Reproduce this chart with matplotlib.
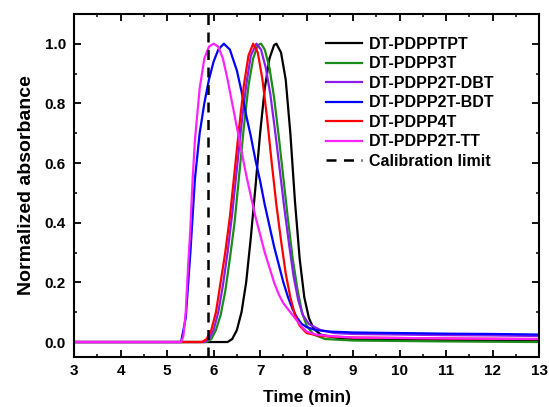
"""GPC traces of DT-PDPP polymers, normalized absorbance vs elution time."""

import matplotlib as mpl
import matplotlib.pyplot as plt
from matplotlib.ticker import MultipleLocator

mpl.rcParams.update(
    {
        "font.family": ["Liberation Sans", "DejaVu Sans"],
        "font.weight": "bold",
        "font.size": 11,
        "axes.linewidth": 1.5,
        "xtick.direction": "in",
        "ytick.direction": "in",
        "xtick.top": True,
        "ytick.right": True,
        "xtick.major.size": 5,
        "ytick.major.size": 5,
        "xtick.minor.size": 2.5,
        "ytick.minor.size": 2.5,
        "xtick.major.width": 1.3,
        "ytick.major.width": 1.3,
        "xtick.minor.width": 1.1,
        "ytick.minor.width": 1.1,
        "xtick.major.pad": 5,
        "ytick.major.pad": 6,
    }
)

# elution time (min) / normalized absorbance
t_tpt = [3.0, 5.0, 6.3, 6.4, 6.5, 6.6, 6.7, 6.8, 6.9, 7.0, 7.1, 7.2, 7.3, 7.35,
         7.45, 7.55, 7.65, 7.75, 7.85, 7.95, 8.05, 8.15, 8.3, 8.6, 9.0, 11.0, 13.0]
a_tpt = [0.0, 0.0, 0.0, 0.01, 0.04, 0.1, 0.2, 0.35, 0.52, 0.7, 0.85, 0.95, 0.995, 1.0,
         0.97, 0.88, 0.7, 0.47, 0.28, 0.15, 0.08, 0.045, 0.025, 0.015, 0.01, 0.007, 0.005]

t_3t = [3.0, 5.0, 5.85, 5.95, 6.05, 6.15, 6.25, 6.35, 6.45, 6.55, 6.65, 6.75, 6.85, 6.95,
        7.02, 7.1, 7.2, 7.3, 7.4, 7.5, 7.6, 7.7, 7.8, 7.9, 8.0, 8.15, 8.4, 9.0, 11.0, 13.0]
a_3t = [0.0, 0.0, 0.0, 0.01, 0.04, 0.09, 0.17, 0.28, 0.4, 0.56, 0.72, 0.86, 0.95, 0.995,
        1.0, 0.98, 0.92, 0.82, 0.69, 0.55, 0.41, 0.28, 0.18, 0.1, 0.055, 0.025, 0.01, 0.005, 0.002, 0.0]

t_dbt = [3.0, 5.0, 5.8, 5.9, 6.0, 6.1, 6.2, 6.3, 6.4, 6.5, 6.6, 6.7, 6.8, 6.92, 7.02,
         7.12, 7.22, 7.32, 7.42, 7.52, 7.62, 7.72, 7.82, 7.92, 8.05, 8.3, 8.6, 9.0,
         10.0, 11.0, 12.0, 13.0]
a_dbt = [0.0, 0.0, 0.0, 0.01, 0.04, 0.1, 0.19, 0.3, 0.43, 0.58, 0.73, 0.86, 0.96, 1.0, 0.98,
         0.92, 0.83, 0.71, 0.58, 0.45, 0.33, 0.22, 0.14, 0.09, 0.06, 0.04, 0.03, 0.027,
         0.025, 0.023, 0.022, 0.02]

t_bdt = [3.0, 5.0, 5.3, 5.4, 5.5, 5.6, 5.7, 5.8, 5.9, 6.0, 6.1, 6.22, 6.35, 6.5, 6.6,
         6.7, 6.8, 6.9, 7.0, 7.1, 7.2, 7.3, 7.4, 7.5, 7.6, 7.7, 7.8, 7.9, 8.0, 8.2, 8.5,
         9.0, 10.0, 11.0, 12.0, 13.0]
a_bdt = [0.0, 0.0, 0.0, 0.08, 0.3, 0.55, 0.7, 0.8, 0.88, 0.94, 0.98, 1.0, 0.98, 0.91, 0.84,
         0.76, 0.69, 0.61, 0.54, 0.46, 0.39, 0.32, 0.26, 0.2, 0.15, 0.11, 0.08, 0.06, 0.05,
         0.04, 0.035, 0.032, 0.03, 0.028, 0.027, 0.025]

t_4t = [3.0, 5.0, 5.75, 5.85, 5.95, 6.05, 6.15, 6.25, 6.35, 6.45, 6.55, 6.65, 6.75, 6.85,
        6.95, 7.05, 7.15, 7.25, 7.35, 7.45, 7.55, 7.65, 7.75, 7.85, 8.0, 8.3, 9.0, 11.0, 13.0]
a_4t = [0.0, 0.0, 0.0, 0.01, 0.04, 0.1, 0.2, 0.3, 0.42, 0.57, 0.72, 0.86, 0.96, 1.0,
        0.97, 0.88, 0.75, 0.6, 0.46, 0.34, 0.23, 0.15, 0.09, 0.055, 0.03, 0.02, 0.015, 0.012, 0.01]

t_tt = [3.0, 5.0, 5.3, 5.35, 5.4, 5.45, 5.5, 5.55, 5.6, 5.7, 5.8, 5.9, 6.0, 6.1, 6.2,
        6.3, 6.4, 6.5, 6.6, 6.7, 6.8, 6.9, 7.0, 7.1, 7.2, 7.3, 7.4, 7.5, 7.6, 7.7, 7.8,
        7.9, 8.0, 8.2, 8.5, 9.0, 11.0, 13.0]
a_tt = [0.0, 0.0, 0.0, 0.02, 0.1, 0.25, 0.38, 0.55, 0.68, 0.85, 0.95, 0.99, 1.0, 0.99, 0.95,
        0.88, 0.8, 0.72, 0.64, 0.56, 0.49, 0.42, 0.36, 0.3, 0.25, 0.2, 0.16, 0.13, 0.11,
        0.09, 0.07, 0.05, 0.035, 0.025, 0.02, 0.015, 0.012, 0.01]

calib_limit = 5.87

series = [
    ("DT-PDPPTPT", t_tpt, a_tpt, "#000000"),
    ("DT-PDPP3T", t_3t, a_3t, "#1a8c1a"),
    ("DT-PDPP2T-DBT", t_dbt, a_dbt, "#8a1cf0"),
    ("DT-PDPP2T-BDT", t_bdt, a_bdt, "#0000ff"),
    ("DT-PDPP4T", t_4t, a_4t, "#ff0000"),
    ("DT-PDPP2T-TT", t_tt, a_tt, "#ff22ff"),
]

fig = plt.figure(figsize=(5.49, 4.07), dpi=100)
ax = fig.add_axes([0.135, 0.123, 0.847, 0.843])

for name, t, a, c in series:
    ax.plot(t, a, color=c, lw=1.6, label=name)
ax.axvline(calib_limit, color="black", lw=1.8, ls=(0, (4, 3)), label="Calibration limit")

ax.set_xlim(3, 13)
ax.set_ylim(-0.05, 1.1)
ax.xaxis.set_major_locator(MultipleLocator(1))
ax.xaxis.set_minor_locator(MultipleLocator(0.5))
ax.yaxis.set_major_locator(MultipleLocator(0.2))
ax.yaxis.set_minor_locator(MultipleLocator(0.1))
ax.yaxis.set_major_formatter(mpl.ticker.FormatStrFormatter("%.1f"))

ax.set_xlabel("Time (min)", fontsize=12.5, fontweight="bold", labelpad=9)
ax.set_ylabel("Normalized absorbance", fontsize=14, fontweight="bold", labelpad=7)

leg = ax.legend(
    loc="upper left",
    bbox_to_anchor=(0.51, 0.975),
    frameon=False,
    handlelength=2.3,
    handletextpad=0.4,
    labelspacing=0.28,
    fontsize=11.5,
)

fig.savefig("out.png", dpi=100)
